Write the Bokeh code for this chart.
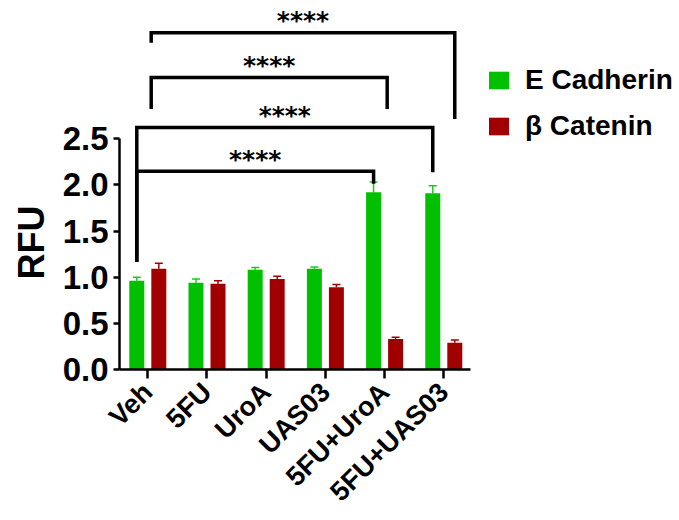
import numpy as np
from bokeh.plotting import figure
from bokeh.models import (Range1d, FixedTicker, ColumnDataSource, Whisker, TeeHead,
                          Title, NumeralTickFormatter)
from bokeh.embed import file_html
from bokeh.resources import INLINE
from bokeh.core.properties import value

# ---------------- data ----------------
groups = ["Veh", "5FU", "UroA", "UAS03", "5FU+UroA", "5FU+UAS03"]
e_cadherin = [0.96, 0.94, 1.08, 1.09, 1.92, 1.91]
e_cadherin_err = [0.04, 0.04, 0.025, 0.02, 0.11, 0.08]
b_catenin = [1.09, 0.93, 0.98, 0.89, 0.33, 0.29]
b_catenin_err = [0.06, 0.03, 0.03, 0.03, 0.02, 0.03]
series_names = ["E Cadherin", "β Catenin"]
y_ticks = [0.0, 0.5, 1.0, 1.5, 2.0, 2.5]
y_title = "RFU"
# significance comparisons: (group a, group b, label)
comparisons = [(0, 4, "****"), (0, 5, "****"), (0, 4, "****"), (0, 5, "****")]

# ---------------- layout / style ----------------
GREEN = "#00C000"
RED = "#A00000"
FONT = "Liberation Sans"
PX_X = 59.2      # px per category
PX_Y = 92.56     # px per y unit
OFF = 0.186      # dodge offset
BAR_W = 0.253

# bracket geometry: (a offset px, b offset px, bar height, a-drop end, b-drop end)
bracket_geom = [
    (-11, -11, 2.147, 1.164, 2.011),
    (-11, -11, 2.622, 1.164, 2.136),
    (3.4, 2.6, 3.162, 2.821, 2.821),
    (3.4, 11, 3.648, 3.540, 2.713),
]

x = np.arange(len(groups))

p = figure(width=679, height=520,
           x_range=Range1d(-0.478, 8.982), y_range=Range1d(0, 3.997),
           output_backend="svg", toolbar_location=None,
           min_border_left=119, min_border_right=0,
           min_border_top=0, min_border_bottom=150)
p.outline_line_color = None
p.grid.visible = False
p.background_fill_color = "white"
p.border_fill_color = "white"

src_e = ColumnDataSource(dict(x=x - OFF, top=e_cadherin,
                              up=np.array(e_cadherin) + np.array(e_cadherin_err)))
src_b = ColumnDataSource(dict(x=x + OFF, top=b_catenin,
                              up=np.array(b_catenin) + np.array(b_catenin_err)))

p.vbar(x="x", top="top", width=BAR_W, source=src_e, fill_color=GREEN,
       line_color=None, legend_label=series_names[0])
p.vbar(x="x", top="top", width=BAR_W, source=src_b, fill_color=RED,
       line_color=None, legend_label=series_names[1])

for src, col in ((src_e, "#22c422"), (src_b, RED)):
    w = Whisker(base="x", lower="top", upper="up", source=src,
                line_color=col, line_width=1.5,
                upper_head=TeeHead(size=8, line_color=col, line_width=1.5),
                lower_head=None)
    p.add_layout(w)

# brackets
xs, ys, sx, sy, st = [], [], [], [], []
for (a, b, lab), (oa, ob, h, ea, eb) in zip(comparisons, bracket_geom):
    xa = a + oa / PX_X
    xb = b + ob / PX_X
    xs.append([xa, xa, xb, xb])
    ys.append([ea, h, h, eb])
    sx.append((xa + xb) / 2)
    sy.append(h + 12 / PX_Y)
    st.append(lab)
p.multi_line(xs=xs, ys=ys, line_color="black", line_width=3.5,
             line_join="miter", line_cap="butt")
p.text(x=sx, y=sy, text=st, text_align="center", text_baseline="middle",
       text_font=value("DejaVu Sans"), text_font_size="25px",
       text_font_style="bold", text_color="black")

# axes
for ax in (p.xaxis, p.yaxis):
    ax.axis_line_width = 2.5
    ax.axis_line_color = "black"
    ax.major_tick_line_width = 2.5
    ax.major_tick_line_color = "black"
    ax.major_tick_in = 0
    ax.minor_tick_line_color = None
    ax.major_label_text_font = FONT
    ax.major_label_text_font_style = "bold"
    ax.major_label_text_color = "black"

p.yaxis.bounds = (0, 2.5)
p.yaxis.ticker = FixedTicker(ticks=y_ticks)
p.yaxis.major_tick_out = 6
p.yaxis.major_label_text_font_size = "33px"
p.yaxis.formatter = NumeralTickFormatter(format="0.0")

p.xaxis.bounds = (-0.478, 5.45)
p.xaxis.ticker = FixedTicker(ticks=list(range(len(groups))))
p.xaxis.major_label_overrides = {i: g for i, g in enumerate(groups)}
p.xaxis.major_label_orientation = np.pi / 4
p.xaxis.major_tick_out = 9
p.xaxis.major_label_text_font_size = "27px"
p.xaxis.major_label_standoff = 9

p.add_layout(Title(text=y_title, align="left", offset=90, standoff=16,
                   text_font=FONT, text_font_size="36px",
                   text_font_style="bold", text_color="black"), "left")

lg = p.legend[0]
lg.location = (367, 227)
lg.border_line_color = None
lg.background_fill_alpha = 0
lg.padding = 0
lg.margin = 0
lg.glyph_width = 25
lg.glyph_height = 22
lg.label_height = 22
lg.label_standoff = 14
lg.spacing = 14
lg.label_text_font = FONT
lg.label_text_font_size = "28px"
lg.label_text_font_style = "bold"
lg.label_text_color = "black"

open("out.html", "w").write(file_html(p, INLINE))
